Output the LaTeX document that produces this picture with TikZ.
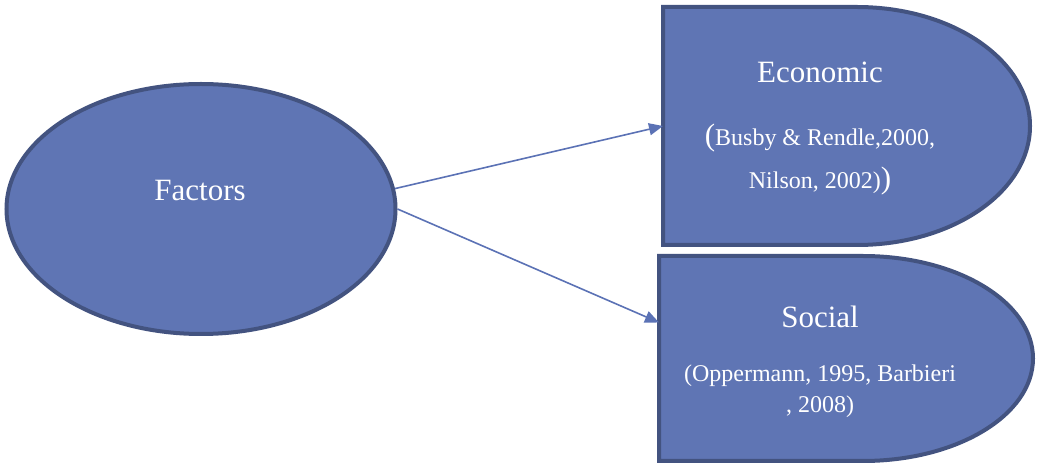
\documentclass[tikz,border=0pt]{standalone}
\usepackage{fontspec}
\setmainfont{Liberation Serif}
\usetikzlibrary{shapes.geometric,arrows.meta}
\definecolor{shapefill}{RGB}{95,117,180}
\definecolor{shapeline}{RGB}{67,83,128}
\definecolor{arrowcol}{RGB}{91,114,181}
\begin{document}
\begin{tikzpicture}[x=1pt,y=1pt,
  title/.style={text=white, font=\fontsize{31}{31}\selectfont, anchor=base, inner sep=0},
  cite/.style={text=white, font=\fontsize{24}{24}\selectfont, anchor=base, inner sep=0},
  blob/.style={fill=shapefill, draw=shapeline, line width=4pt},
  frame/.style={inner sep=0, outer sep=0, minimum width=#1},
  link/.style={draw=arrowcol, line width=1.6pt, -{Triangle[length=14pt,width=12pt]}}]
\useasboundingbox (0,0) rectangle (1037,466);

% central ellipse
\node[ellipse, blob, minimum width=389pt, minimum height=250pt, inner sep=0] (fac) at (201,257) {};
\node[title] (factxt) at (200,265) {Factors};

% economic box (rectangle with a half-ellipse on the right)
\node[frame=367pt, minimum height=238pt] (eco) at (846.5,340) {};
\draw[blob] (eco.south west) -- (eco.north west) -- ([xshift=-173pt]eco.north east)
  arc[start angle=90, end angle=-90, x radius=173, y radius=119] -- cycle;
\node[title] (ecotxt) at (820,383) {Economic};
\node[cite] (ecoref1) at (820,320) {{\fontsize{31}{31}\selectfont(}Busby \& Rendle,2000,};
\node[cite] (ecoref2) at (820,277) {Nilson, 2002){\fontsize{31}{31}\selectfont)}};

% social box
\node[frame=374pt, minimum height=205pt] (soc) at (846,107.5) {};
\draw[blob] (soc.south west) -- (soc.north west) -- ([xshift=-170pt]soc.north east)
  arc[start angle=90, end angle=-90, x radius=170, y radius=102.5] -- cycle;
\node[title] (soctxt) at (820,138) {Social};
\node[cite] (socref1) at (820,84) {(Oppermann, 1995, Barbieri};
\node[cite] (socref2) at (820,53) {, 2008)};

% connectors
\draw[link] (fac.6) -- (eco.west);
\draw[link] (fac.0) -- ([yshift=36pt]soc.west);
\end{tikzpicture}
\end{document}
